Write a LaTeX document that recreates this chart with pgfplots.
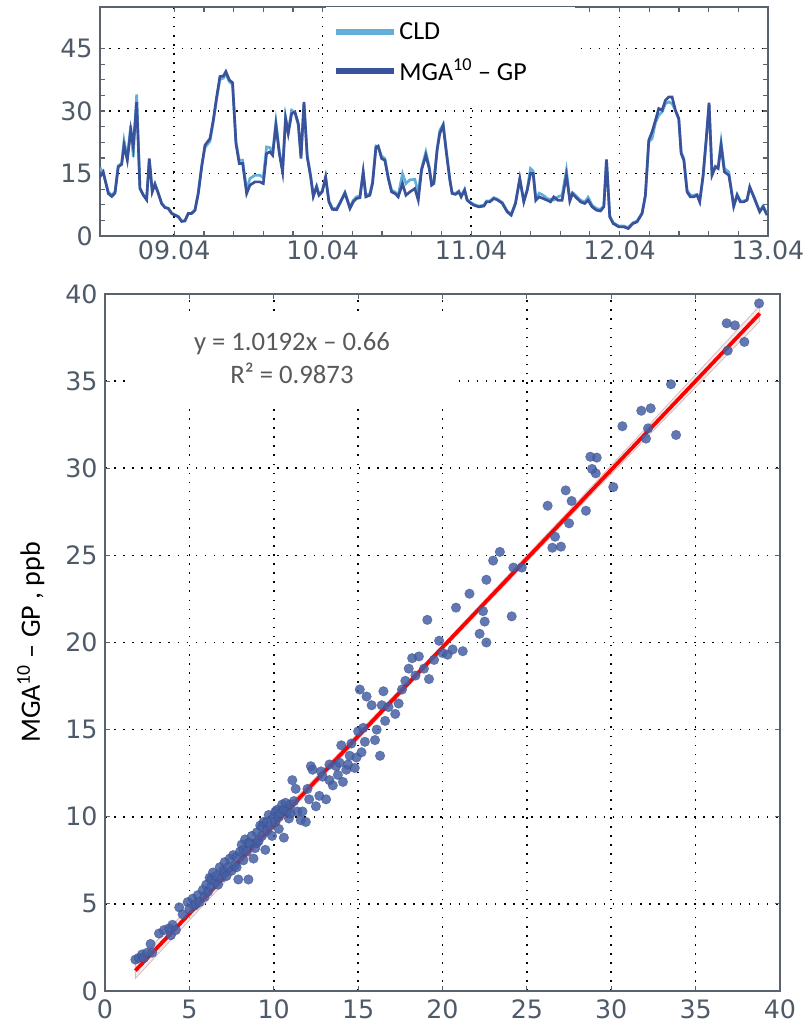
\documentclass[border=0pt]{standalone}
\usepackage{fontspec}
\setmainfont{Carlito}
\newfontfamily\tickfont{DejaVu Sans}
\usepackage{pgfplots}
\usepackage{pgfplotstable}
\pgfplotsset{compat=1.18}
\definecolor{tickgray}{HTML}{4E5A68}
\definecolor{axgray}{HTML}{59626D}
\definecolor{mga}{HTML}{3A519B}
\definecolor{cld}{HTML}{62B0D9}
\definecolor{dot}{HTML}{4560A6}
\definecolor{anno}{HTML}{595959}

\pgfplotstableread{
t v
8.500 14.2
8.522 15.4
8.556 10.2
8.579 9.5
8.601 10.3
8.623 16.6
8.646 17.2
8.662 21.8
8.684 18.2
8.707 25.4
8.724 21.4
8.747 32.2
8.769 11.4
8.792 9.8
8.814 8.7
8.832 18.6
8.852 10.6
8.870 12.4
8.893 10.2
8.915 7.8
8.938 6.8
8.960 6.6
8.983 5.4
9.005 5.0
9.028 4.6
9.050 3.5
9.072 3.6
9.095 5.4
9.117 5.4
9.140 6.2
9.162 10.2
9.185 16.6
9.207 21.8
9.241 23.4
9.263 27.8
9.286 33.4
9.308 38.3
9.331 38.4
9.348 39.5
9.371 37.5
9.393 36.8
9.416 22.2
9.438 17.4
9.461 17.4
9.488 10.2
9.510 12.2
9.544 13.0
9.577 13.0
9.600 12.6
9.622 19.8
9.645 20.2
9.663 19.4
9.685 26.6
9.708 19.8
9.730 15.4
9.750 28.2
9.768 24.6
9.791 29.4
9.813 29.8
9.836 27.0
9.854 18.6
9.874 32.2
9.896 19.0
9.919 14.2
9.937 9.5
9.959 11.8
9.975 9.8
9.997 10.6
10.020 14.2
10.042 8.2
10.065 6.4
10.094 6.3
10.116 7.8
10.150 10.3
10.184 6.6
10.206 8.2
10.228 9.0
10.251 9.2
10.273 15.4
10.291 9.4
10.318 9.8
10.336 12.6
10.359 21.3
10.374 21.6
10.397 18.6
10.419 18.2
10.442 13.8
10.464 10.6
10.487 10.2
10.509 9.4
10.538 12.6
10.561 9.8
10.588 10.6
10.621 11.4
10.644 8.6
10.666 15.8
10.695 19.4
10.718 16.2
10.734 12.2
10.749 12.6
10.771 20.6
10.789 24.6
10.812 26.6
10.834 19.8
10.857 13.4
10.872 10.2
10.895 10.0
10.917 10.6
10.933 9.4
10.956 11.0
10.973 8.6
10.996 7.9
11.018 7.4
11.052 7.0
11.086 7.2
11.104 8.2
11.126 8.2
11.153 9.0
11.175 8.7
11.209 7.9
11.243 5.8
11.270 5.0
11.299 7.8
11.328 13.8
11.355 8.2
11.378 11.0
11.400 15.0
11.418 15.0
11.436 8.6
11.458 9.4
11.485 9.0
11.512 8.6
11.535 8.2
11.557 9.4
11.584 8.6
11.613 8.6
11.642 14.6
11.665 8.4
11.683 10.2
11.703 9.4
11.737 8.2
11.766 7.8
11.788 8.6
11.815 7.0
11.845 6.2
11.871 6.0
11.894 7.0
11.912 18.4
11.934 4.6
11.957 3.0
11.995 2.2
12.028 2.2
12.058 1.8
12.091 3.0
12.118 3.4
12.152 5.4
12.174 9.8
12.197 23.0
12.219 25.0
12.242 27.8
12.264 30.6
12.287 30.2
12.309 32.6
12.332 33.4
12.354 33.4
12.376 30.2
12.399 28.2
12.415 19.8
12.433 18.2
12.455 10.6
12.477 9.4
12.500 9.4
12.522 9.8
12.540 8.2
12.563 14.6
12.585 23.8
12.603 32.0
12.623 14.6
12.646 16.6
12.664 16.2
12.684 21.8
12.706 15.4
12.736 14.6
12.751 11.4
12.769 7.1
12.792 9.8
12.814 8.2
12.837 8.2
12.859 8.6
12.877 11.8
12.904 9.4
12.926 7.4
12.944 5.8
12.967 7.0
12.994 5.0
}\mgadata

\pgfplotstableread{
t v
8.500 16.4
8.522 15.0
8.556 10.6
8.579 9.8
8.601 10.6
8.623 16.9
8.646 17.4
8.662 22.9
8.684 18.8
8.707 26.6
8.724 19.0
8.747 34.0
8.769 11.6
8.792 9.9
8.814 8.8
8.832 18.4
8.852 10.8
8.870 12.6
8.893 10.3
8.915 7.9
8.938 6.9
8.960 6.7
8.983 5.5
9.005 5.1
9.028 4.7
9.050 3.6
9.072 3.7
9.095 5.5
9.117 5.5
9.140 6.3
9.162 10.4
9.185 16.9
9.207 21.2
9.241 22.8
9.263 27.4
9.286 33.0
9.308 37.6
9.331 37.9
9.348 38.9
9.371 37.1
9.393 36.4
9.416 22.6
9.438 18.2
9.461 18.2
9.488 11.0
9.510 13.8
9.544 14.6
9.577 14.6
9.600 14.0
9.622 21.4
9.645 21.2
9.663 20.0
9.685 27.4
9.708 20.4
9.730 15.8
9.750 28.6
9.768 25.0
9.791 30.2
9.813 29.6
9.836 26.6
9.854 19.4
9.874 31.8
9.896 19.4
9.919 14.6
9.937 9.8
9.959 12.0
9.975 10.0
9.997 10.8
10.020 14.0
10.042 8.5
10.065 6.7
10.094 6.6
10.116 8.0
10.150 10.5
10.184 6.9
10.206 8.6
10.228 9.4
10.251 9.6
10.273 15.2
10.291 9.8
10.318 10.2
10.336 13.0
10.359 21.6
10.374 21.4
10.397 19.2
10.419 18.6
10.442 14.2
10.464 11.0
10.487 10.6
10.509 9.8
10.538 15.0
10.561 12.6
10.588 13.5
10.621 13.6
10.644 10.4
10.666 16.2
10.695 20.2
10.718 16.6
10.734 12.6
10.749 12.9
10.771 21.0
10.789 25.4
10.812 26.8
10.834 20.2
10.857 13.6
10.872 10.4
10.895 10.2
10.917 10.8
10.933 9.6
10.956 11.2
10.973 8.8
10.996 8.1
11.018 7.6
11.052 7.2
11.086 7.4
11.104 8.4
11.126 8.4
11.153 9.2
11.175 8.9
11.209 8.1
11.243 6.0
11.270 5.2
11.299 8.0
11.328 13.6
11.355 8.4
11.378 11.2
11.400 16.2
11.418 15.6
11.436 8.8
11.458 10.3
11.485 9.8
11.512 9.0
11.535 8.8
11.557 8.6
11.584 9.4
11.613 9.8
11.642 15.8
11.665 8.8
11.683 10.4
11.703 9.8
11.737 8.6
11.766 8.2
11.788 9.3
11.815 7.4
11.845 6.6
11.871 6.4
11.894 7.2
11.912 18.2
11.934 4.8
11.957 3.2
11.995 2.4
12.028 2.4
12.058 2.0
12.091 3.2
12.118 3.6
12.152 5.6
12.174 9.6
12.197 22.6
12.219 23.4
12.242 27.2
12.264 29.0
12.287 29.8
12.309 31.8
12.332 32.2
12.354 31.8
12.376 30.2
12.399 28.0
12.415 20.2
12.433 18.6
12.455 11.0
12.477 9.8
12.500 9.8
12.522 10.0
12.540 8.4
12.563 14.4
12.585 23.4
12.603 31.6
12.623 15.0
12.646 16.8
12.664 16.6
12.684 22.6
12.706 16.2
12.736 15.4
12.751 11.6
12.769 7.3
12.792 10.0
12.814 8.4
12.837 8.4
12.859 8.8
12.877 11.6
12.904 9.6
12.926 7.6
12.944 6.0
12.967 7.2
12.994 5.2
}\clddata

\pgfplotstableread{
x y
1.8 1.8
2.0 1.9
2.2 2.1
2.3 1.9
2.5 2.2
2.7 2.7
2.8 2.2
3.2 3.3
3.5 3.5
3.8 3.6
3.9 3.2
4.0 3.8
4.2 3.5
4.4 4.8
4.6 4.4
4.9 5.1
5.0 4.7
5.2 5.3
5.3 4.9
5.4 5.0
5.5 5.5
5.6 5.1
5.8 5.8
5.9 5.4
6.0 6.1
6.1 5.7
6.2 6.5
6.3 6.0
6.3 6.4
6.4 6.8
6.5 6.3
6.6 6.6
6.7 6.1
6.8 7.1
6.9 6.5
7.0 6.9
7.1 7.4
7.1 6.8
7.2 6.6
7.3 7.1
7.4 7.6
7.5 6.9
7.6 7.8
7.7 7.2
7.8 7.7
7.8 7.1
7.9 6.4
8.0 8.0
8.1 8.4
8.2 7.5
8.2 8.1
8.3 8.7
8.4 8.0
8.5 6.4
8.5 8.5
8.6 8.5
8.7 8.9
8.8 7.6
8.9 8.2
9.0 9.1
9.0 8.5
9.1 8.6
9.2 9.5
9.3 8.9
9.3 9.4
9.4 9.7
9.5 8.1
9.6 9.2
9.6 9.7
9.7 10.1
9.8 9.5
9.9 8.9
10.0 10.0
10.1 9.7
10.1 10.3
10.2 10.4
10.3 9.3
10.3 10.0
10.4 10.2
10.5 10.7
10.6 8.8
10.6 10.4
10.7 10.8
10.8 10.3
10.9 9.9
11.0 10.7
11.0 10.2
11.1 12.1
11.2 10.9
11.3 11.6
11.4 10.3
11.6 9.8
11.7 10.3
11.9 9.7
12.0 11.6
12.1 11.0
12.2 12.9
12.3 12.7
12.5 10.6
12.7 11.2
12.8 12.6
12.9 12.3
13.1 11.0
13.3 12.1
13.3 13.0
13.5 11.8
13.7 12.9
13.8 12.4
13.9 13.1
14.0 14.1
14.1 12.0
14.3 12.7
14.4 13.0
14.5 13.5
14.6 14.2
14.8 12.8
14.9 13.4
15.0 14.9
15.1 17.3
15.2 13.7
15.3 15.1
15.4 14.3
15.5 16.9
15.8 16.4
16.0 14.4
16.1 15.0
16.3 13.5
16.4 16.4
16.5 17.2
16.6 15.5
16.8 16.3
17.2 15.9
17.4 16.5
17.6 17.3
17.8 17.8
18.0 18.5
18.2 19.1
18.4 18.1
18.6 19.2
18.9 18.5
19.1 21.3
19.2 17.9
19.5 19.0
19.8 20.1
20.0 19.4
20.3 19.3
20.6 19.6
20.8 22.0
21.2 19.5
21.6 22.8
22.2 20.5
22.4 21.8
22.5 21.2
22.6 20.0
22.6 23.6
23.0 24.7
23.4 25.2
24.1 21.5
24.2 24.3
24.7 24.3
26.51 25.44
27.02 25.50
26.67 26.07
27.50 26.84
28.50 27.56
26.23 27.85
27.65 28.12
27.30 28.73
30.12 28.92
29.08 29.71
28.86 29.96
29.14 30.61
28.76 30.66
30.66 32.41
32.06 31.70
32.18 32.29
31.78 33.30
32.34 33.44
33.84 31.91
33.54 34.82
36.90 36.75
37.89 37.25
37.33 38.20
36.84 38.32
38.76 39.46
}\scatterdata

\begin{document}
\begin{tikzpicture}
\path[use as bounding box] (0,0) rectangle (606pt,769.5pt);

% ---------- top time series ----------
\begin{axis}[
  at={(75pt,592.5pt)}, anchor=south west,
  scale only axis, width=501pt, height=171.75pt,
  xmin=8.5, xmax=13, ymin=0, ymax=55,
  xtick={9,10,11,12,13}, xticklabels={09.04,10.04,11.04,12.04,13.04},
  ytick={0,15,30,45},
  minor x tick num=4, minor y tick num=3,
  grid=major,
  major grid style={black, line width=1.2pt, dash pattern=on 1.2pt off 5.6pt},
  axis line style={axgray, line width=1.1pt},
  tick style={axgray, line width=0.9pt},
  major tick length=4pt, minor tick length=4pt,
  tick align=inside,
  /pgf/number format/assume math mode=true,
  ticklabel style={font=\tickfont\fontsize{19}{20}\selectfont, text=tickgray},
  yticklabel style={xshift=-2pt},
  legend style={at={(0.349,0.945)}, anchor=north west, draw=none, fill=none,
    font=\fontsize{19.5}{21}\selectfont, inner sep=0pt, row sep=9pt,
    nodes={inner sep=2pt}},
  legend cell align=left,
  legend image code/.code={\draw[#1, line width=4.5pt] (0pt,0pt) -- (43pt,0pt);},
]
\fill[white] (axis cs:10.02,30.7) rectangle (axis cs:11.7,55);
\addplot[cld, line width=2pt] table[x=t, y=v] {\clddata};
\addlegendentry{CLD}
\addplot[mga, line width=2pt] table[x=t, y=v] {\mgadata};
\addlegendentry{MGA\textsuperscript{10} – GP}
\end{axis}

% ---------- scatter ----------
\begin{axis}[
  at={(78.75pt,26.25pt)}, anchor=south west,
  scale only axis, width=506.25pt, height=522.75pt,
  xmin=0, xmax=40, ymin=0, ymax=40,
  xtick={0,5,...,40}, ytick={0,5,...,40},
  grid=major,
  major grid style={black, line width=1.2pt, dash pattern=on 1.2pt off 5.6pt},
  axis line style={axgray, line width=1.1pt},
  tick style={axgray, line width=0.9pt},
  major tick length=4pt,
  tick align=inside,
  /pgf/number format/assume math mode=true,
  ticklabel style={font=\tickfont\fontsize{19}{20}\selectfont, text=tickgray},
  yticklabel style={xshift=-2pt},
  xticklabel style={yshift=-3pt},
  ylabel={MGA\textsuperscript{10} – GP , ppb},
  ylabel style={font=\fontsize{21}{22}\selectfont, at={(axis description cs:-0.11,0.50)}, anchor=center},
]
\fill[white] (axis cs:1.2,33.5) rectangle (axis cs:20.9,38.9);
\node[text=anno, font=\fontsize{20}{24.75}\selectfont, align=center] at (axis cs:11.08,36.35)
  {y = 1.0192x – 0.66\\R² = 0.9873};
\addplot[only marks, mark=*, mark size=3.6pt,
  mark options={fill=dot, draw=dot!75!black, fill opacity=0.85, draw opacity=0.5, line width=0.4pt}]
  table[x=x, y=y] {\scatterdata};
\addplot[draw=red!30!gray!40, fill=red!30!gray!20, fill opacity=0.6, line width=0.6pt] coordinates {
  (1.8,1.62) (12,11.77) (20,19.87) (28,28.08) (38.8,39.33)
  (38.8,38.43) (28,27.68) (20,19.57) (12,11.37) (1.8,0.72) } -- cycle;
\addplot[red, line width=2.8pt] coordinates {(1.8,1.17) (38.8,38.88)};
\end{axis}
\end{tikzpicture}
\end{document}
